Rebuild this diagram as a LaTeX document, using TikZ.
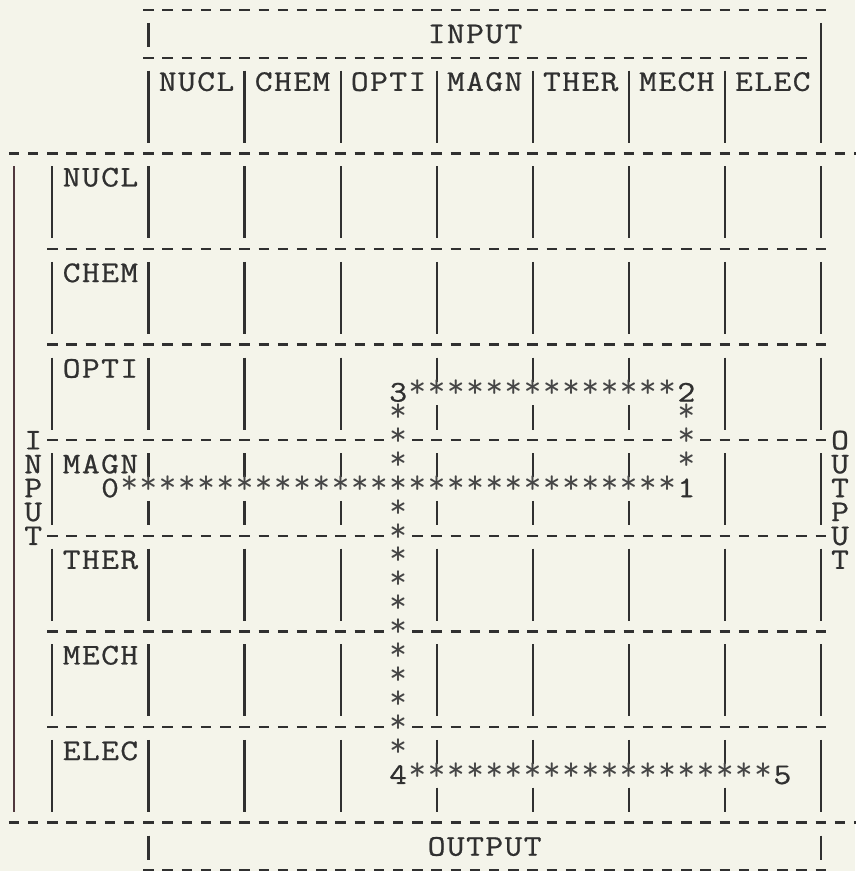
\documentclass[tikz,border=0pt]{standalone}
\usepackage{fontspec}
\setmonofont{Latin Modern Mono}[FakeBold=0.7]
\newfontfamily\starfont{Latin Modern Mono}
\definecolor{bg}{RGB}{244,244,234}
\definecolor{ink}{RGB}{48,48,48}
\definecolor{starink}{RGB}{70,70,70}
\definecolor{leftink}{RGB}{80,56,62}
\tikzset{
  chr/.style={anchor=base, inner sep=0pt, outer sep=0pt, text=ink, yshift=-4.58pt,
              font=\fontsize{15}{18}\selectfont\ttfamily},
  starchr/.style={anchor=base, inner sep=0pt, outer sep=0pt, text=starink, yshift=-2.6pt,
              font=\fontsize{17}{18}\selectfont\starfont},
  dashseg/.style={draw=ink, line width=1.25pt},
  vbarline/.style={draw=ink, line width=1.05pt},
}
\newcommand\wide[1]{\scalebox{1.15}[1]{#1}}
% place a word, one character per column
\newcommand\putword[3]{\foreach \ch [count=\k from 0] in {#3} {\node[chr] (w-#1-#2-\k) at ({#1+\k},#2) {\wide{\ch}};}}
% horizontal run of stars: from col #1 to col #2 on line #3
\newcommand\hstars[3]{\foreach \c in {#1,...,#2} {\node[starchr] (sh-\c-#3) at (\c,#3) {*};}}
% vertical run of stars: col #1, lines #2..#3
\newcommand\vstars[3]{\foreach \l in {#2,...,#3} {\node[starchr] (sv-#1-\l) at (#1,\l) {*};}}
% dashes from col #1 to col #2 on line #3
\newcommand\dashrow[3]{\foreach \c in {#1,...,#2} {\draw[dashseg] ({\c-0.27},#3) -- ({\c+0.27},#3);}}
% vertical bar at col #1 covering lines #2..#3
\newcommand\vbarr[3]{\draw[vbarline] (#1,{#2-0.46}) -- (#1,{#3+0.56});}
\begin{document}
\begin{tikzpicture}[x=9.605pt, y=-11.95pt]
\useasboundingbox (-0.7288,-0.4184) rectangle (43.779,36.025);
\fill[bg] (-0.7288,-0.4184) rectangle (43.779,36.025);

% ---------- dashed rows ----------
\dashrow{7}{42}{0}
\dashrow{7}{41}{2}
\dashrow{0}{44}{6}
\dashrow{2}{42}{10}
\dashrow{2}{42}{14}
\dashrow{2}{19}{18}\dashrow{21}{34}{18}\dashrow{36}{42}{18}
\foreach \L in {22,26,30} {\dashrow{2}{19}{\L}\dashrow{21}{42}{\L}}
\dashrow{0}{44}{34}
\dashrow{7}{42}{36}

% ---------- header bars ----------
\vbarr{7}{1}{1}
\vbarr{7}{3}{5}
\vbarr{42}{1}{5}
\foreach \c in {12,17,22,27,32,37} {\vbarr{\c}{3}{5}}

% ---------- matrix bars ----------
\draw[leftink, line width=1.2pt] (0,6.54) -- (0,33.56);
\foreach \T in {6,10,22,26} {
  \foreach \c in {2,7,12,17,22,27,32,37,42} {\vbarr{\c}{\T+1}{\T+3}}
}
% OPTI row (stars on line 16)
\foreach \c in {2,7,12,17,37,42} {\vbarr{\c}{15}{17}}
\foreach \c in {22,27,32} {\vbarr{\c}{15}{15}\vbarr{\c}{17}{17}}
% MAGN row (stars on line 20)
\foreach \c in {2,37,42} {\vbarr{\c}{19}{21}}
\foreach \c in {7,12,17,22,27,32} {\vbarr{\c}{19}{19}\vbarr{\c}{21}{21}}
% ELEC row (stars on line 32)
\foreach \c in {2,7,12,17,42} {\vbarr{\c}{31}{33}}
\foreach \c in {22,27,32,37} {\vbarr{\c}{31}{31}\vbarr{\c}{33}{33}}

% ---------- bottom bars ----------
\vbarr{7}{35}{35}
\vbarr{42}{35}{35}

% ---------- texts ----------
\putword{22}{1}{I,N,P,U,T}
\putword{8}{3}{N,U,C,L}
\putword{13}{3}{C,H,E,M}
\putword{18}{3}{O,P,T,I}
\putword{23}{3}{M,A,G,N}
\putword{28}{3}{T,H,E,R}
\putword{33}{3}{M,E,C,H}
\putword{38}{3}{E,L,E,C}
\putword{3}{7}{N,U,C,L}
\putword{3}{11}{C,H,E,M}
\putword{3}{15}{O,P,T,I}
\putword{3}{19}{M,A,G,N}
\putword{3}{23}{T,H,E,R}
\putword{3}{27}{M,E,C,H}
\putword{3}{31}{E,L,E,C}
\putword{22}{35}{O,U,T,P,U,T}
% vertical labels
\foreach \ch [count=\k from 18] in {I,N,P,U,T} {\node[chr] (vin-\k) at (1,\k) {\wide{\ch}};}
\foreach \ch [count=\k from 18] in {O,U,T,P,U,T} {\node[chr] (vout-\k) at (43,\k) {\wide{\ch}};}

% ---------- path numbers ----------
\node[chr] (n0) at (5,20) {\wide{0}};
\node[chr] (n1) at (35,20) {\wide{1}};
\node[chr] (n2) at (35,16) {\wide{2}};
\node[chr] (n3) at (20,16) {\wide{3}};
\node[chr] (n4) at (20,32) {\wide{4}};
\node[chr] (n5) at (40,32) {\wide{5}};

% ---------- star paths ----------
\hstars{6}{34}{20}
\hstars{21}{34}{16}
\vstars{35}{17}{19}
\vstars{20}{17}{19}
\vstars{20}{21}{31}
\hstars{21}{39}{32}
\end{tikzpicture}
\end{document}
